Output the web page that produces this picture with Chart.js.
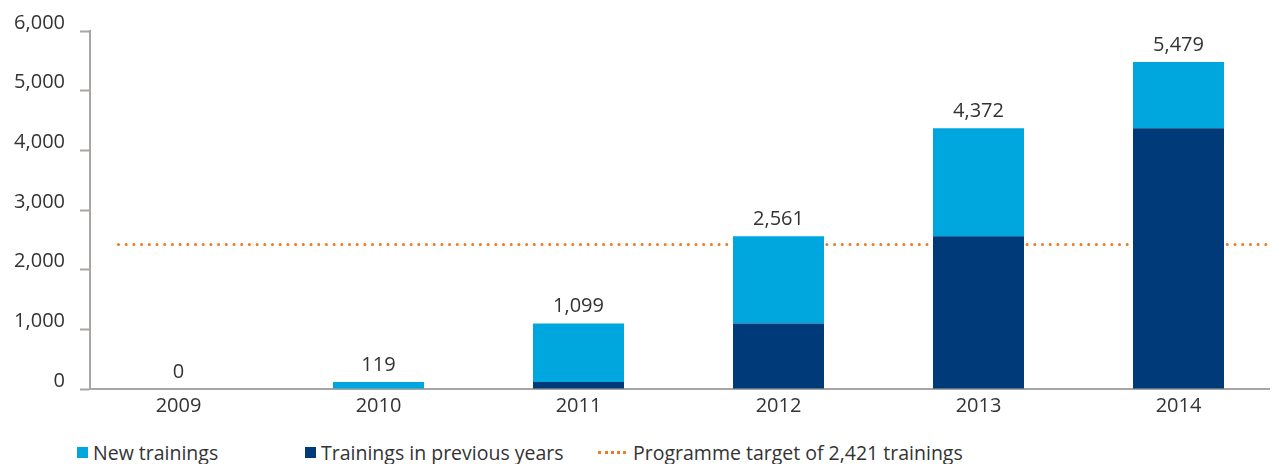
<!DOCTYPE html>
<html>
<head>
<meta charset="utf-8">
<script src="https://cdn.jsdelivr.net/npm/chart.js@4.4.1/dist/chart.umd.min.js"></script>
<style>
	html, body { margin: 0; padding: 0; background: #fff; }
	body { width: 1276px; height: 464px; position: relative; overflow: hidden; font-family: 'Open Sans', sans-serif; color: #333; }
	#wrap { position: absolute; left: 0; top: 0; width: 1276px; height: 430px; }
	#legend { position: absolute; left: 0; top: 440px; width: 1276px; height: 24px; font-size: 19.5px; }
	.item { position: absolute; top: 0; display: flex; align-items: center; height: 24px; white-space: nowrap; }
	.box { width: 11px; height: 11px; margin-right: 5px; }
	.dots { width: 28px; border-bottom: 3px dotted; margin-right: 7px; }
</style>
</head>
<body>
<div id="wrap"><canvas id="chartjs-canvas"></canvas></div>
<div id="legend"></div>
<script>
const years = ['2009', '2010', '2011', '2012', '2013', '2014'];
const newTrainings = [0, 119, 980, 1462, 1811, 1107];
const previousTrainings = [0, 0, 119, 1099, 2561, 4372];
const target = 2421;
const yTicks = [0, 1000, 2000, 3000, 4000, 5000, 6000];

const xMin = -0.4425, xMax = 5.4525, targetFrom = -0.3;
const textColor = '#333333';
const axisColor = '#a8a5a2';
const fontFamily = "'Open Sans', sans-serif";
const fmt = v => v.toLocaleString('en-US');

const totalsPlugin = {
	id: 'totals',
	afterDatasetsDraw(chart) {
		const { ctx, scales: { x, y } } = chart;
		ctx.save();
		ctx.fillStyle = textColor;
		ctx.font = `20px ${fontFamily}`;
		ctx.textAlign = 'center';
		ctx.textBaseline = 'middle';
		years.forEach((yr, i) => {
			const total = newTrainings[i] + previousTrainings[i];
			ctx.fillText(fmt(total), x.getPixelForValue(i), y.getPixelForValue(total) - 17);
		});
		ctx.restore();
	}
};

const data = {
	datasets: [
		{
			type: 'bar',
			label: 'Trainings in previous years',
			data: previousTrainings.map((v, i) => ({ x: i, y: v })),
			backgroundColor: '#003a79',
			categoryPercentage: 1,
			barPercentage: 0.455,
			order: 1
		},
		{
			type: 'bar',
			label: 'New trainings',
			data: newTrainings.map((v, i) => ({ x: i, y: v })),
			backgroundColor: '#00a7de',
			categoryPercentage: 1,
			barPercentage: 0.455,
			order: 1
		},
		{
			type: 'line',
			label: 'Programme target of 2,421 trainings',
			data: [{ x: targetFrom, y: target }, { x: xMax, y: target }],
			borderColor: '#ec7a22',
			borderWidth: 3,
			borderDash: [0, 7.7],
			borderCapStyle: 'round',
			pointRadius: 0,
			stack: 'target',
			order: 2
		}
	]
};

const config = {
	type: 'bar',
	data,
	plugins: [totalsPlugin],
	options: {
		responsive: true,
		maintainAspectRatio: false,
		animation: false,
		layout: { padding: { top: 31, right: 7, left: 0, bottom: 0 } },
		plugins: {
			legend: { display: false },
			tooltip: { enabled: false }
		},
		scales: {
			x: {
				type: 'linear',
				min: xMin,
				max: xMax,
				offset: false,
				stacked: true,
				afterFit: scale => { scale.height = 41; },
				border: { display: true, color: axisColor, width: 2 },
				grid: { display: false, drawTicks: false },
				ticks: {
					stepSize: 1,
					includeBounds: false,
					padding: 5,
					color: textColor,
					font: { family: fontFamily, size: 20 },
					callback: v => years[v] || ''
				}
			},
			y: {
				min: 0,
				max: 6000,
				stacked: true,
				afterFit: scale => { scale.width = 90; },
				afterBuildTicks: scale => { scale.ticks = yTicks.map(v => ({ value: v })); },
				border: { display: true, color: axisColor, width: 2 },
				grid: { drawOnChartArea: false, drawTicks: true, tickLength: 10, tickWidth: 2, tickColor: axisColor },
				ticks: {
					padding: 15,
					color: textColor,
					font: { family: fontFamily, size: 20, lineHeight: 0.8 },
					callback: v => [fmt(v), '']
				}
			}
		}
	}
};

const chart = new Chart(document.getElementById('chartjs-canvas'), config);

// html legend
const legendItems = [
	{ text: 'New trainings', color: '#00a7de', kind: 'box', left: 77 },
	{ text: 'Trainings in previous years', color: '#003a79', kind: 'box', left: 305 },
	{ text: 'Programme target of 2,421 trainings', color: '#ec7a22', kind: 'dots', left: 598 }
];
const legend = document.getElementById('legend');
legendItems.forEach(item => {
	const el = document.createElement('div');
	el.className = 'item';
	el.style.left = item.left + 'px';
	const mark = document.createElement('span');
	mark.className = item.kind;
	if (item.kind === 'box') mark.style.background = item.color;
	else mark.style.borderColor = item.color;
	el.appendChild(mark);
	el.appendChild(document.createTextNode(item.text));
	legend.appendChild(el);
});
</script>
</body>
</html>
